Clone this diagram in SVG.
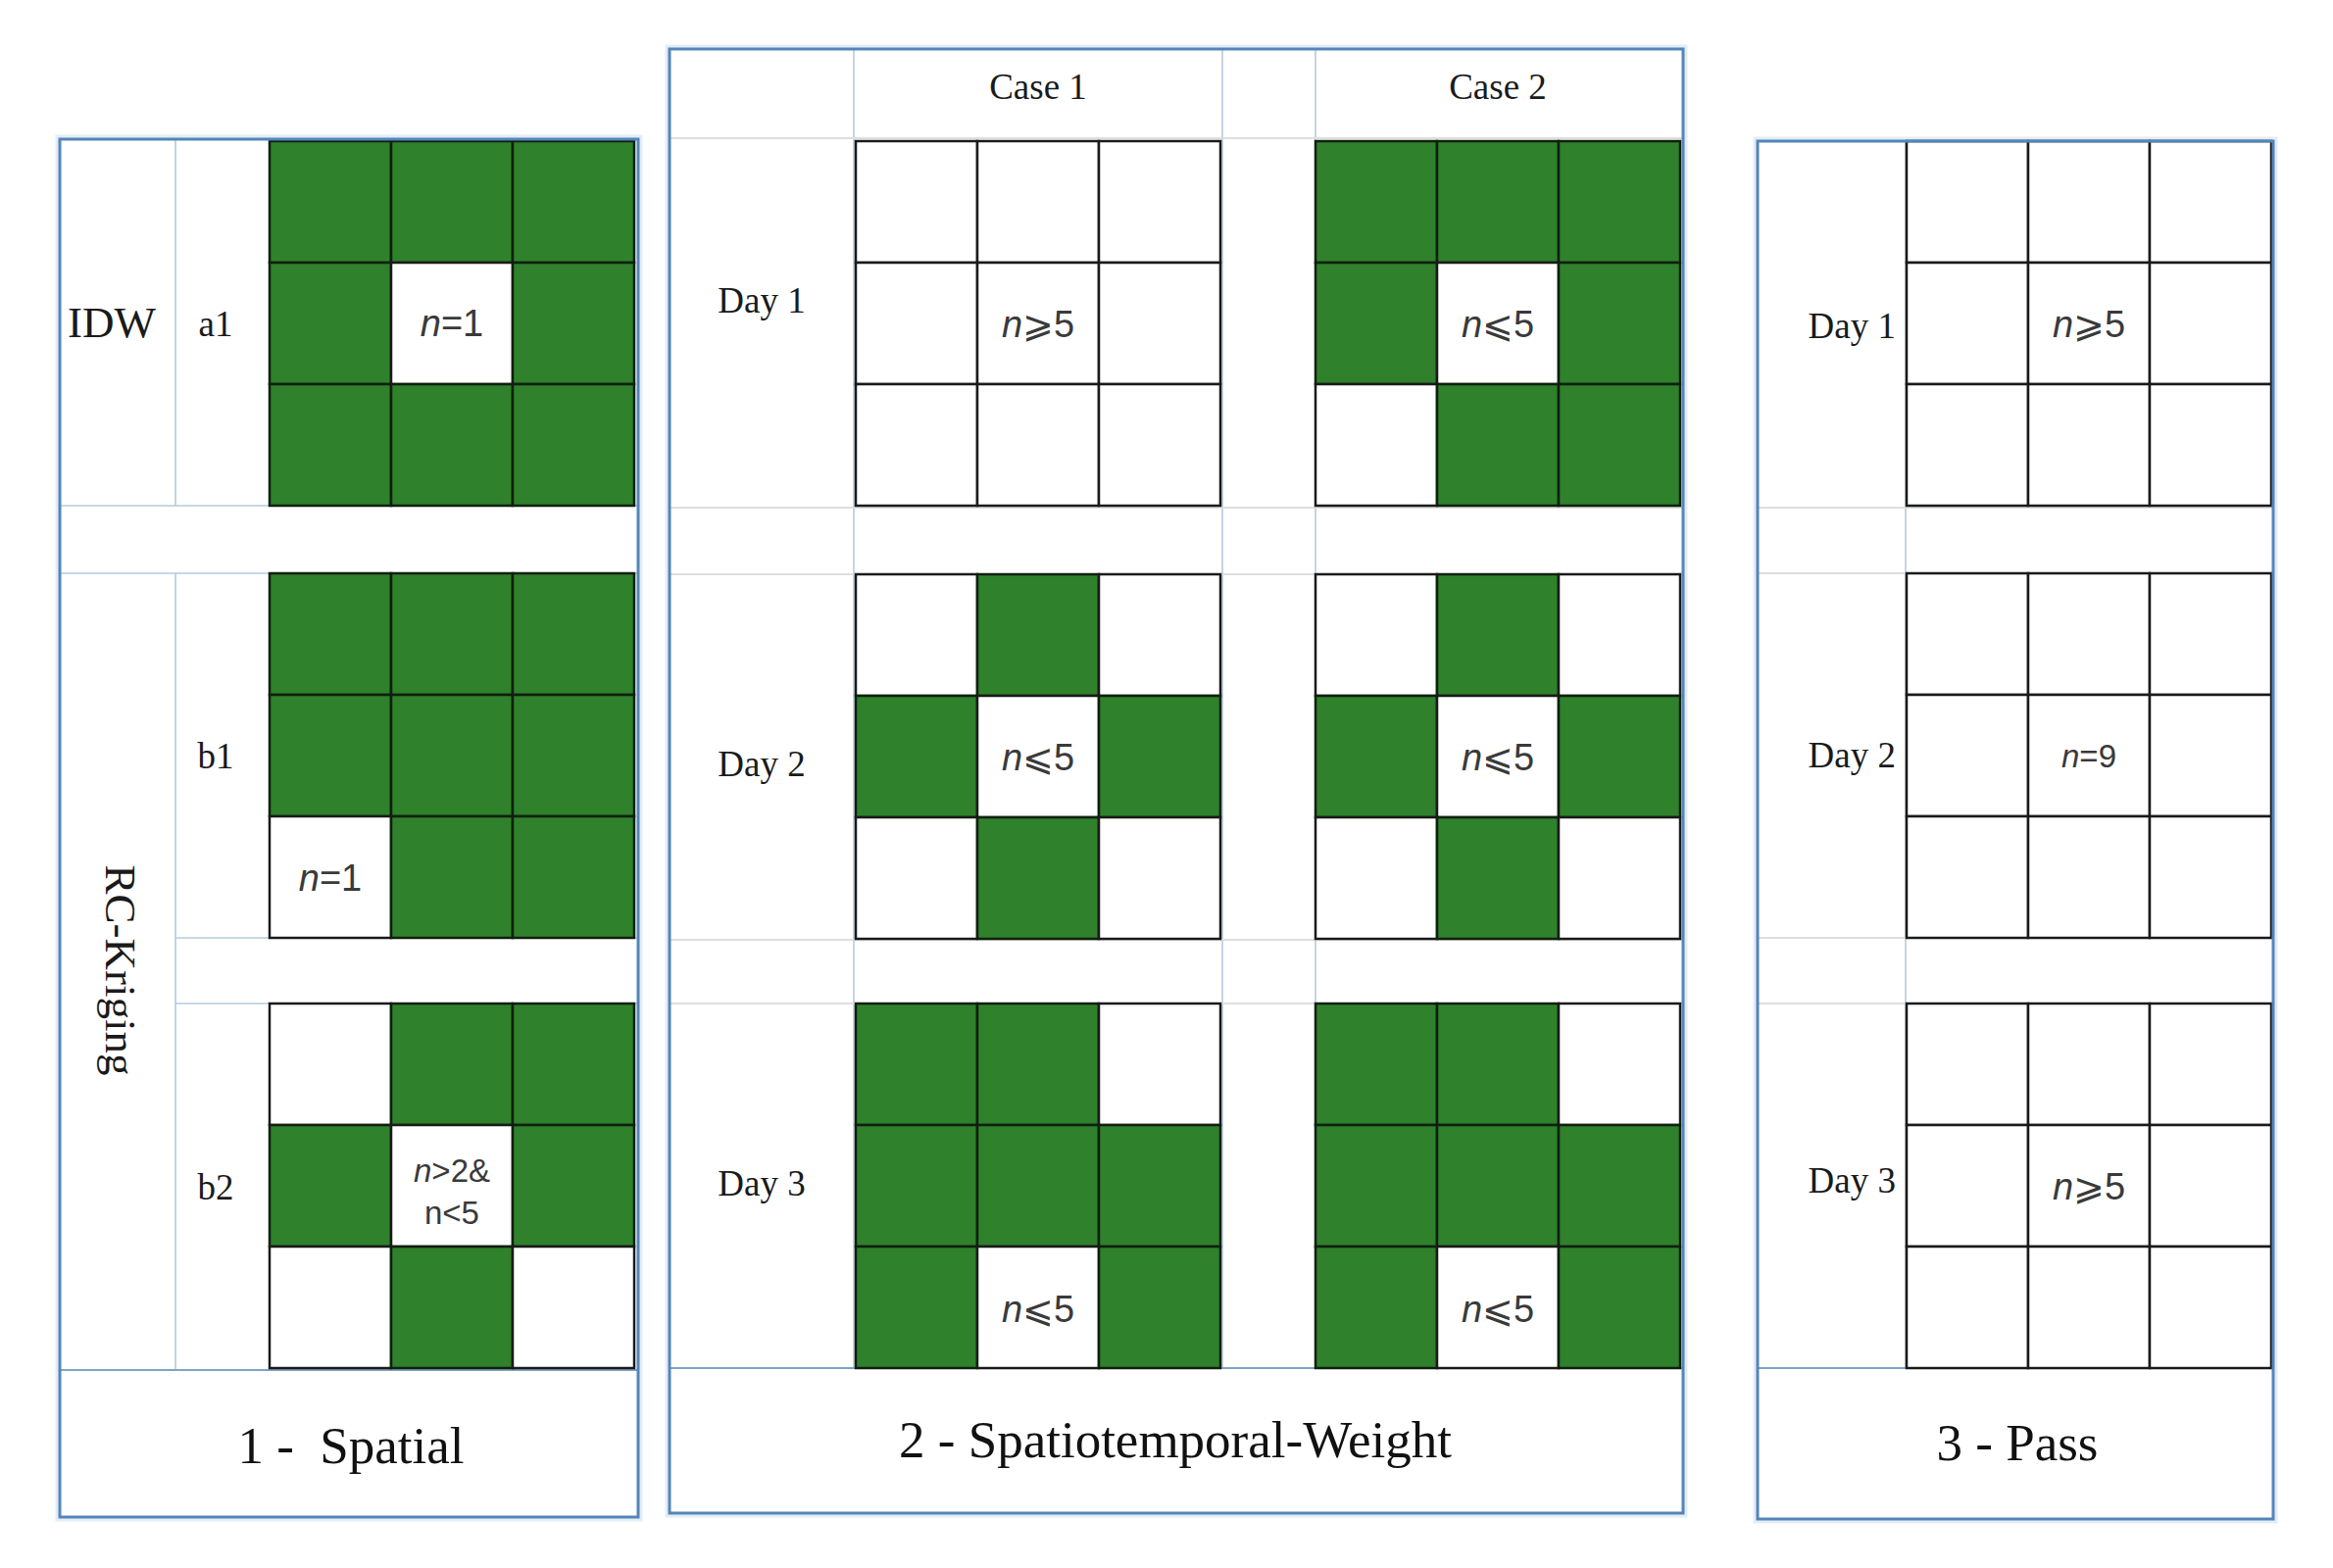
<svg xmlns="http://www.w3.org/2000/svg" width="2380" height="1600" viewBox="0 0 2380 1600">
<style>
.bg{fill:#ffffff}
.frame{fill:none;stroke:#5585b9;stroke-width:3}
.glow{fill:none;stroke:#e3edf7;stroke-width:9}
.ln{stroke:#b7cade;stroke-width:1.6;fill:none}
.lg{stroke:#dedede;stroke-width:2.2;fill:none}
.lt{stroke:#7fa3c8;stroke-width:2;fill:none}
.g{fill:#2f812b;stroke:#0f1f0f;stroke-width:2.5}
.w{fill:#ffffff;stroke:#1a1a1a;stroke-width:2.5}
.lab{font-family:"Liberation Serif","Times New Roman",serif;font-size:37px;fill:#1a1a1a}
.big{font-family:"Liberation Serif","Times New Roman",serif;font-size:45px;fill:#1a1a1a}
.title{font-family:"Liberation Serif","Times New Roman",serif;font-size:53px;fill:#111;text-anchor:middle}
.n{font-family:"Liberation Sans","DejaVu Sans",Arial,sans-serif;font-size:38px;fill:#3a3a3a;text-anchor:middle}
.ns{font-family:"Liberation Sans","DejaVu Sans",Arial,sans-serif;font-size:33px;fill:#3a3a3a;text-anchor:middle}
.sym{font-family:"DejaVu Sans","Noto Sans CJK SC",sans-serif}
.mid{text-anchor:middle}
.end{text-anchor:end}
</style>
<rect class="bg" x="0" y="0" width="2380" height="1600"/>

<g id="panel-spatial">
  <rect class="glow" x="61" y="142" width="590" height="1406"/>
  <rect class="bg" x="61" y="142" width="590" height="1406"/>
  <path class="ln" d="M179 142V516M179 585V1398M61 516H651M61 585H651M179 957H651M179 1024H651"/>
  <path class="lt" d="M61 1398H651"/>
  <g id="grid-a1">
    <rect class="g" x="275" y="144" width="124" height="124"/><rect class="g" x="399" y="144" width="124" height="124"/><rect class="g" x="523" y="144" width="124" height="124"/>
    <rect class="g" x="275" y="268" width="124" height="124"/><rect class="w" x="399" y="268" width="124" height="124"/><rect class="g" x="523" y="268" width="124" height="124"/>
    <rect class="g" x="275" y="392" width="124" height="124"/><rect class="g" x="399" y="392" width="124" height="124"/><rect class="g" x="523" y="392" width="124" height="124"/>
    <text class="n" x="461" y="343"><tspan font-style="italic">n</tspan>=1</text>
  </g>
  <g id="grid-b1">
    <rect class="g" x="275" y="585" width="124" height="124"/><rect class="g" x="399" y="585" width="124" height="124"/><rect class="g" x="523" y="585" width="124" height="124"/>
    <rect class="g" x="275" y="709" width="124" height="124"/><rect class="g" x="399" y="709" width="124" height="124"/><rect class="g" x="523" y="709" width="124" height="124"/>
    <rect class="w" x="275" y="833" width="124" height="124"/><rect class="g" x="399" y="833" width="124" height="124"/><rect class="g" x="523" y="833" width="124" height="124"/>
    <text class="n" x="337" y="909"><tspan font-style="italic">n</tspan>=1</text>
  </g>
  <g id="grid-b2">
    <rect class="w" x="275" y="1024" width="124" height="124"/><rect class="g" x="399" y="1024" width="124" height="124"/><rect class="g" x="523" y="1024" width="124" height="124"/>
    <rect class="g" x="275" y="1148" width="124" height="124"/><rect class="w" x="399" y="1148" width="124" height="124"/><rect class="g" x="523" y="1148" width="124" height="124"/>
    <rect class="w" x="275" y="1272" width="124" height="124"/><rect class="g" x="399" y="1272" width="124" height="124"/><rect class="w" x="523" y="1272" width="124" height="124"/>
    <text class="ns" x="461" y="1206"><tspan font-style="italic">n</tspan>&gt;2&amp;</text>
    <text class="ns" x="461" y="1249">n&lt;5</text>
  </g>
  <text class="big mid" x="114" y="344">IDW</text>
  <text class="lab mid" x="220" y="343">a1</text>
  <text class="lab mid" x="220" y="784">b1</text>
  <text class="lab mid" x="220" y="1224">b2</text>
  <text class="big mid" transform="translate(124,990) rotate(90)" x="0" y="16" font-size="47">RC-Kriging</text>
  <text class="title" x="358" y="1493">1 -&#160; Spatial</text>
</g>

<g id="panel-spatiotemporal">
  <rect class="glow" x="683" y="50" width="1034" height="1494"/>
  <rect class="bg" x="683" y="50" width="1034" height="1494"/>
  <path class="ln" d="M871 50V1396M1247 50V1396M1342 50V1396"/>
  <path class="lg" d="M683 141H1717M683 518H1717M683 586H1717M683 959H1717M683 1024H1717"/>
  <path class="lt" d="M683 1396H1717"/>
  <text class="lab mid" x="1059" y="101">Case 1</text>
  <text class="lab mid" x="1528" y="101">Case 2</text>
  <text class="lab mid" x="777" y="319">Day 1</text>
  <text class="lab mid" x="777" y="792">Day 2</text>
  <text class="lab mid" x="777" y="1220">Day 3</text>
  <g id="case1-day1">
    <rect class="w" x="873" y="144" width="124" height="124"/><rect class="w" x="997" y="144" width="124" height="124"/><rect class="w" x="1121" y="144" width="124" height="124"/>
    <rect class="w" x="873" y="268" width="124" height="124"/><rect class="w" x="997" y="268" width="124" height="124"/><rect class="w" x="1121" y="268" width="124" height="124"/>
    <rect class="w" x="873" y="392" width="124" height="124"/><rect class="w" x="997" y="392" width="124" height="124"/><rect class="w" x="1121" y="392" width="124" height="124"/>
    <text class="n" x="1059" y="344"><tspan font-style="italic">n</tspan><tspan class="sym">⩾</tspan>5</text>
  </g>
  <g id="case2-day1">
    <rect class="g" x="1342" y="144" width="124" height="124"/><rect class="g" x="1466" y="144" width="124" height="124"/><rect class="g" x="1590" y="144" width="124" height="124"/>
    <rect class="g" x="1342" y="268" width="124" height="124"/><rect class="w" x="1466" y="268" width="124" height="124"/><rect class="g" x="1590" y="268" width="124" height="124"/>
    <rect class="w" x="1342" y="392" width="124" height="124"/><rect class="g" x="1466" y="392" width="124" height="124"/><rect class="g" x="1590" y="392" width="124" height="124"/>
    <text class="n" x="1528" y="344"><tspan font-style="italic">n</tspan><tspan class="sym">⩽</tspan>5</text>
  </g>
  <g id="case1-day2">
    <rect class="w" x="873" y="586" width="124" height="124"/><rect class="g" x="997" y="586" width="124" height="124"/><rect class="w" x="1121" y="586" width="124" height="124"/>
    <rect class="g" x="873" y="710" width="124" height="124"/><rect class="w" x="997" y="710" width="124" height="124"/><rect class="g" x="1121" y="710" width="124" height="124"/>
    <rect class="w" x="873" y="834" width="124" height="124"/><rect class="g" x="997" y="834" width="124" height="124"/><rect class="w" x="1121" y="834" width="124" height="124"/>
    <text class="n" x="1059" y="786"><tspan font-style="italic">n</tspan><tspan class="sym">⩽</tspan>5</text>
  </g>
  <g id="case2-day2">
    <rect class="w" x="1342" y="586" width="124" height="124"/><rect class="g" x="1466" y="586" width="124" height="124"/><rect class="w" x="1590" y="586" width="124" height="124"/>
    <rect class="g" x="1342" y="710" width="124" height="124"/><rect class="w" x="1466" y="710" width="124" height="124"/><rect class="g" x="1590" y="710" width="124" height="124"/>
    <rect class="w" x="1342" y="834" width="124" height="124"/><rect class="g" x="1466" y="834" width="124" height="124"/><rect class="w" x="1590" y="834" width="124" height="124"/>
    <text class="n" x="1528" y="786"><tspan font-style="italic">n</tspan><tspan class="sym">⩽</tspan>5</text>
  </g>
  <g id="case1-day3">
    <rect class="g" x="873" y="1024" width="124" height="124"/><rect class="g" x="997" y="1024" width="124" height="124"/><rect class="w" x="1121" y="1024" width="124" height="124"/>
    <rect class="g" x="873" y="1148" width="124" height="124"/><rect class="g" x="997" y="1148" width="124" height="124"/><rect class="g" x="1121" y="1148" width="124" height="124"/>
    <rect class="g" x="873" y="1272" width="124" height="124"/><rect class="w" x="997" y="1272" width="124" height="124"/><rect class="g" x="1121" y="1272" width="124" height="124"/>
    <text class="n" x="1059" y="1349"><tspan font-style="italic">n</tspan><tspan class="sym">⩽</tspan>5</text>
  </g>
  <g id="case2-day3">
    <rect class="g" x="1342" y="1024" width="124" height="124"/><rect class="g" x="1466" y="1024" width="124" height="124"/><rect class="w" x="1590" y="1024" width="124" height="124"/>
    <rect class="g" x="1342" y="1148" width="124" height="124"/><rect class="g" x="1466" y="1148" width="124" height="124"/><rect class="g" x="1590" y="1148" width="124" height="124"/>
    <rect class="g" x="1342" y="1272" width="124" height="124"/><rect class="w" x="1466" y="1272" width="124" height="124"/><rect class="g" x="1590" y="1272" width="124" height="124"/>
    <text class="n" x="1528" y="1349"><tspan font-style="italic">n</tspan><tspan class="sym">⩽</tspan>5</text>
  </g>
  <text class="title" x="1199" y="1487">2 - Spatiotemporal-Weight</text>
</g>

<g id="panel-pass">
  <rect class="glow" x="1793" y="144" width="526" height="1406"/>
  <rect class="bg" x="1793" y="144" width="526" height="1406"/>
  <path class="ln" d="M1944 144V1396"/>
  <path class="lg" d="M1793 518H2319M1793 585H2319M1793 957H2319M1793 1024H2319"/>
  <path class="lt" d="M1793 1396H2319"/>
  <text class="lab end" x="1934" y="345">Day 1</text>
  <text class="lab end" x="1934" y="783">Day 2</text>
  <text class="lab end" x="1934" y="1217">Day 3</text>
  <g id="pass-day1">
    <rect class="w" x="1945" y="144" width="124" height="124"/><rect class="w" x="2069" y="144" width="124" height="124"/><rect class="w" x="2193" y="144" width="124" height="124"/>
    <rect class="w" x="1945" y="268" width="124" height="124"/><rect class="w" x="2069" y="268" width="124" height="124"/><rect class="w" x="2193" y="268" width="124" height="124"/>
    <rect class="w" x="1945" y="392" width="124" height="124"/><rect class="w" x="2069" y="392" width="124" height="124"/><rect class="w" x="2193" y="392" width="124" height="124"/>
    <text class="n" x="2131" y="344"><tspan font-style="italic">n</tspan><tspan class="sym">⩾</tspan>5</text>
  </g>
  <g id="pass-day2">
    <rect class="w" x="1945" y="585" width="124" height="124"/><rect class="w" x="2069" y="585" width="124" height="124"/><rect class="w" x="2193" y="585" width="124" height="124"/>
    <rect class="w" x="1945" y="709" width="124" height="124"/><rect class="w" x="2069" y="709" width="124" height="124"/><rect class="w" x="2193" y="709" width="124" height="124"/>
    <rect class="w" x="1945" y="833" width="124" height="124"/><rect class="w" x="2069" y="833" width="124" height="124"/><rect class="w" x="2193" y="833" width="124" height="124"/>
    <text class="ns" x="2131" y="783"><tspan font-style="italic">n</tspan>=9</text>
  </g>
  <g id="pass-day3">
    <rect class="w" x="1945" y="1024" width="124" height="124"/><rect class="w" x="2069" y="1024" width="124" height="124"/><rect class="w" x="2193" y="1024" width="124" height="124"/>
    <rect class="w" x="1945" y="1148" width="124" height="124"/><rect class="w" x="2069" y="1148" width="124" height="124"/><rect class="w" x="2193" y="1148" width="124" height="124"/>
    <rect class="w" x="1945" y="1272" width="124" height="124"/><rect class="w" x="2069" y="1272" width="124" height="124"/><rect class="w" x="2193" y="1272" width="124" height="124"/>
    <text class="n" x="2131" y="1224"><tspan font-style="italic">n</tspan><tspan class="sym">⩾</tspan>5</text>
  </g>
  <text class="title" x="2058" y="1490">3 - Pass</text>
</g>

<g id="frames">
  <rect class="frame" x="61" y="142" width="590" height="1406"/>
  <rect class="frame" x="683" y="50" width="1034" height="1494"/>
  <rect class="frame" x="1793" y="144" width="526" height="1406"/>
</g>
<g id="connectors"></g>
</svg>
